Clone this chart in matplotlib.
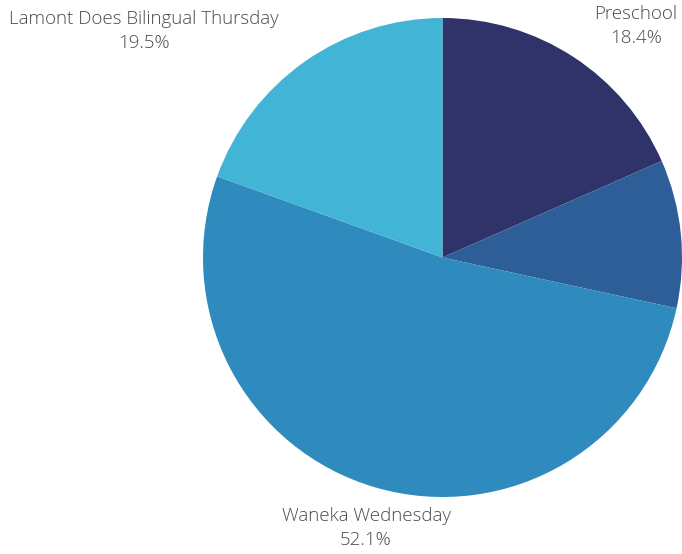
import matplotlib
matplotlib.use("Agg")
import matplotlib.pyplot as plt
import numpy as np

# Share of each program, clockwise from 12 o'clock
programs = ["Preschool", "", "Waneka Wednesday", "Lamont Does Bilingual Thursday"]
shares = [18.4, 10.0, 52.1, 19.5]
colors = ["#30336a", "#2e5e98", "#2f8bbd", "#42b5d6"]

# label centre positions in figure pixels (from top-left)
label_pos = {
    "Preschool": (636, 26),
    "Waneka Wednesday": (366, 528),
    "Lamont Does Bilingual Thursday": (144, 31),
}

W, H = 682, 554
fig = plt.figure(figsize=(W / 100, H / 100), dpi=100)

# pie occupies a square box in pixel space
left, top, size = 203, 18, 479
ax = fig.add_axes([left / W, 1 - (top + size) / H, size / W, size / H])
ax.pie(shares, colors=colors, startangle=90, counterclock=False,
       radius=1.0, wedgeprops=dict(linewidth=0))
ax.set_xlim(-1, 1)
ax.set_ylim(-1, 1)
ax.set_aspect("equal")
ax.axis("off")

for name, val in zip(programs, shares):
    if not name:
        continue
    px, py = label_pos[name]
    fig.text(px / W, 1 - py / H, f"{name}\n{val:.1f}%", ha="center", va="center",
             fontsize=13.5, family="Open Sans", fontweight="light",
             color="#4a4a4a", linespacing=1.4)

fig.savefig("out.png", dpi=100)
